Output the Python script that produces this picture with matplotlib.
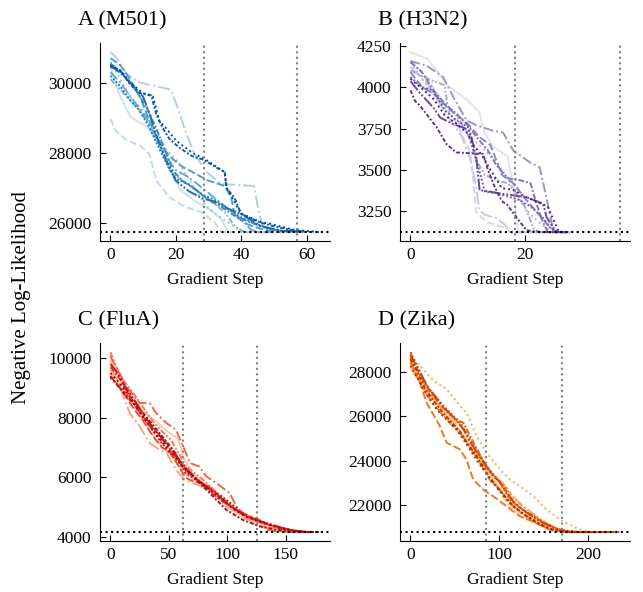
import numpy as np
import matplotlib
matplotlib.use("Agg")
import matplotlib.pyplot as plt

plt.rcParams['font.family'] = ['Liberation Serif', 'DejaVu Serif']

# each run: list of (gradient step, negative log-likelihood)
m501_runs = [
    [(0,30450),(2.6,29690),(6.2,29020),(11.3,28730),(14.4,28350),(17.4,27686),(21.5,26924),(25.6,26640),(30.8,26350),(33.8,26114),(36,25731),(37,25731)],
    [(0,28970),(1.5,28640),(5,28350),(9,28210),(12,27950),(14,27210),(18,26730),(23,26450),(28,26300),(32,26000),(34,25731),(38,25731)],
    [(0,30870),(2,30700),(5,30250),(9,30000),(14,29900),(18.5,29800),(20.5,29300),(23,28600),(26,27900),(30,27400),(34,27110),(44,27050),(45,26500),(46.5,25900),(48,25760),(55,25731)],
    [(0,30600),(3,30100),(6,29600),(10,29200),(14,28600),(17,28100),(21,27700),(25,27100),(29,26500),(33,26200),(37,25950),(40,25731),(44,25731)],
    [(0,30100),(4,29700),(8,29300),(12,28800),(16,28000),(18,27500),(22,27200),(27,26900),(31,26600),(35,26300),(38,25900),(41,25731),(46,25731)],
    [(0,30300),(3,30000),(7,29500),(11,29000),(14,28400),(17,27900),(20,27500),(24,27300),(28,27000),(32,26700),(36,26400),(40,26100),(43,25800),(45,25731),(50,25731)],
    [(0,30700),(3,30500),(6,30100),(9,29600),(12,28900),(15,28300),(18,27900),(22,27600),(26,27400),(30,27200),(35,27050),(37,26700),(38,26200),(42,25950),(47,25800),(52,25731)],
    [(0,30550),(4,30250),(8,29750),(11,29300),(14,28700),(17,28000),(19,27500),(22,27200),(26,26950),(30,26650),(34,26450),(38,26200),(43,26000),(48,25850),(53,25750),(56,25731)],
    [(0,30200),(3,29900),(6,29500),(9,29200),(12,28700),(15,28100),(18,27550),(20,27250),(24,27100),(28,26800),(32,26650),(36,26400),(40,26150),(45,25950),(50,25800),(55,25740),(58,25731)],
    [(0,30500),(4,30200),(8,29800),(10,29600),(12,29100),(14,28500),(17,27800),(20,27200),(24,26900),(28,26700),(32,26600),(36,26400),(40,26250),(46,25900),(52,25780),(60,25731)],
    [(0,30450),(3,30350),(6,29950),(9,29700),(12.5,29640),(14,29100),(16,28700),(18,28400),(21,28150),(25,27900),(28.5,27800),(32,27600),(35,27450),(35.5,27000),(38,26700),(40,26250),(46,26000),(50,25900),(56,25780),(61,25731)],
    [(0,30500),(3,30350),(6,30000),(10,29700),(13,29600),(15,28900),(17,28700),(20,28350),(25,28000),(28.7,27830),(34.9,27450),(35.5,27000),(40,26260),(46,26020),(49,25970),(56,25800),(64,25731)],
]

h3n2_runs = [
    [(0,4210),(3,4170),(6.5,4010),(10,3920),(12,3850),(13,3720),(14.5,3640),(17,3580),(18,3400),(18.8,3130),(22,3125)],
    [(0,4160),(2.8,4060),(5.8,3900),(8.7,3740),(10.5,3600),(11.5,3246),(13.3,3186),(16.2,3156),(17.5,3125),(20,3125)],
    [(0,4120),(3,4020),(6,3850),(9,3700),(10.5,3560),(11.5,3400),(12,3260),(13,3230),(15,3210),(16.5,3170),(17.5,3125),(24,3125)],
    [(0,4150),(3,4000),(6,3880),(9,3760),(11,3680),(13,3620),(15,3550),(17,3450),(19,3320),(21,3230),(23,3170),(25,3125),(30,3125)],
    [(0,4100),(3,4050),(6,4010),(6.5,3880),(8,3830),(10,3720),(11.5,3560),(13,3470),(15,3440),(17,3420),(18.5,3360),(20,3280),(21.5,3150),(22.5,3125),(26,3125)],
    [(0,4156),(2.8,4130),(5.7,4060),(7.5,3940),(9.8,3800),(11.5,3770),(14.5,3736),(16.2,3726),(18,3616),(20.9,3546),(22.6,3516),(23.8,3330),(25,3130),(26.5,3125),(28,3125)],
    [(0,4090),(2,4000),(4,3960),(7,3860),(10,3780),(12,3700),(14,3650),(16,3470),(18,3420),(20,3330),(22,3250),(24,3170),(25.5,3125),(28,3125)],
    [(0,4150),(2,4090),(4,3980),(6,3900),(8,3840),(10,3770),(12,3680),(13.5,3620),(15,3530),(17,3450),(19,3440),(21,3420),(22,3300),(23,3200),(24,3125),(27,3125)],
    [(0,4060),(2,4000),(4,3980),(6,3860),(8,3800),(10,3760),(11,3620),(12,3500),(13,3370),(15,3360),(17,3340),(19,3320),(21,3280),(23,3220),(24.5,3150),(26,3125),(27,3125)],
    [(0,4036),(1.6,3966),(4,3876),(5.2,3816),(7.5,3776),(9.2,3756),(10.4,3736),(11.5,3576),(12.1,3376),(12.7,3376),(16.2,3356),(20.3,3336),(23.2,3296),(23.8,3216),(25.5,3126),(27,3125)],
    [(0,3980),(0.8,3916),(1.7,3886),(4.6,3756),(6.3,3656),(8,3606),(12.7,3596),(13.6,3496),(14.5,3416),(15.6,3336),(16.2,3306),(16.8,3296),(18.5,3216),(20.3,3136),(23,3125),(26,3125)],
    [(0,4050),(2,3990),(4,3930),(6,3830),(8,3780),(10,3720),(11,3650),(12.5,3590),(14,3500),(16,3390),(18,3380),(20,3340),(22,3310),(24,3280),(25,3200),(26,3125),(27.5,3125)],
]

flua_runs = [
    [(0,9900),(10,9150),(20,8600),(30,8150),(40,7850),(50,7500),(58,7300),(62,6700),(70,6150),(80,5800),(90,5500),(100,5150),(110,4850),(120,4600),(130,4420),(140,4300),(150,4200),(155,4168),(160,4168)],
    [(0,9500),(8,9100),(15,8700),(25,8100),(35,7500),(45,7000),(55,6600),(62,6200),(70,5950),(80,5700),(90,5400),(100,5050),(110,4750),(120,4500),(130,4350),(140,4250),(150,4180),(158,4168),(165,4168)],
    [(0,9610),(5,9350),(16.5,8160),(25,7710),(33.6,7150),(42,6930),(48,6820),(56,6260),(63.5,5920),(70.6,5810),(85,5590),(99,5030),(113,4700),(127.6,4360),(150,4190),(160,4170),(179,4168)],
    [(0,10100),(6,9500),(14,9000),(22,8500),(32,7900),(42,7300),(52,6900),(60,6500),(68,6100),(78,5750),(88,5450),(98,5200),(108,4900),(118,4650),(128,4480),(138,4380),(148,4250),(158,4190),(168,4168),(172,4168)],
    [(0,10200),(5,9700),(12,9200),(20,8800),(28,8350),(36,7900),(44,7550),(52,7250),(60,6700),(64,6400),(72,6150),(80,5900),(88,5600),(96,5300),(104,5050),(112,4800),(122,4580),(132,4450),(142,4330),(152,4230),(162,4175),(170,4168)],
    [(0,10056),(13.7,9050),(25,8490),(33.6,8490),(39,8160),(48,7820),(56,7600),(63.5,6930),(68,6480),(76,6370),(82,6035),(90.6,5810),(102,5475),(107.7,5030),(113,4806),(127.6,4580),(133,4250),(142,4200),(155,4168),(165,4168)],
    [(0,9400),(10,8900),(20,8300),(28,7900),(36,7400),(44,7000),(50,6900),(58,6400),(64,6000),(70,5880),(80,5780),(88,5600),(94,5300),(100,5100),(110,4850),(118,4700),(126,4550),(134,4430),(144,4320),(154,4230),(164,4180),(172,4168)],
    [(0,9700),(8,9300),(16,8750),(24,8250),(32,7800),(40,7500),(48,7150),(56,6800),(62,6300),(70,6050),(78,5800),(86,5500),(94,5250),(104,5000),(114,4750),(124,4600),(134,4450),(144,4330),(156,4220),(166,4170),(175,4168)],
    [(0,9350),(10,8950),(18,8600),(26,8150),(34,7700),(42,7250),(50,6850),(58,6550),(64,6150),(72,5950),(80,5750),(88,5550),(96,5350),(104,5100),(112,4850),(120,4650),(130,4500),(140,4380),(150,4270),(160,4200),(168,4168),(176,4168)],
    [(0,9800),(6,9500),(14,8950),(22,8500),(30,8000),(38,7600),(46,7200),(54,6800),(60,6550),(66,6250),(74,5950),(82,5700),(90,5450),(98,5200),(106,4950),(116,4700),(126,4560),(136,4440),(146,4320),(156,4230),(166,4180),(178,4168)],
    [(0,9385),(13.7,8715),(28,8160),(42,7490),(53.5,6930),(62,6370),(70.6,6035),(85,5475),(99,4920),(113,4580),(127.6,4360),(142,4250),(156,4180),(166,4168),(172,4168)],
    [(0,9500),(7,9200),(15,8800),(23,8300),(31,7850),(39,7450),(47,7050),(55,6700),(61,6400),(67,6150),(75,5900),(83,5650),(91,5400),(99,5150),(107,4900),(115,4700),(125,4550),(135,4420),(145,4300),(155,4220),(165,4175),(179,4168)],
]

zika_runs = [
    [(0,28400),(10,27700),(20,27000),(30,26500),(40,26000),(50,25500),(60,25000),(70,24400),(80,23900),(90,23400),(100,22800),(110,22200),(120,21800),(130,21500),(140,21250),(150,21050),(160,20880),(170,20780),(176,20759),(182,20759)],
    [(0,28600),(8,28000),(16,27400),(26,26800),(36,26300),(46,25800),(56,25350),(64,24900),(72,24300),(82,23700),(92,23200),(102,22500),(110,22000),(118,21700),(128,21450),(138,21200),(148,21000),(158,20850),(166,20759),(175,20759)],
    [(0,28200),(6,27800),(14,27350),(24,26900),(32,26500),(42,26050),(52,25600),(60,25050),(68,24700),(76,24250),(84,23750),(94,23300),(104,23000),(112,22600),(120,22200),(128,21900),(138,21600),(148,21300),(158,21050),(168,20850),(178,20780),(186,20759),(195,20759)],
    [(0,28760),(14,28150),(25.6,27620),(40.7,27240),(55.7,26480),(63,26180),(74.6,25110),(86,24350),(101,23590),(112,23140),(123.5,22835),(138.6,22380),(153.7,21770),(168.7,21320),(187.6,20935),(199,20785),(205,20759),(215,20759)],
    [(0,28900),(6,28300),(14,27600),(22,27100),(30,26700),(40,26250),(50,25850),(58,25600),(64,25200),(72,24650),(80,24050),(90,23500),(100,23100),(108,22750),(116,22300),(126,21950),(136,21650),(146,21350),(156,21100),(166,20900),(176,20800),(186,20759),(200,20759)],
    [(0,28500),(10,27600),(18,27000),(28,26450),(38,26000),(48,25550),(58,25150),(66,24650),(74,24200),(82,23650),(90,23100),(98,22800),(106,22400),(114,22000),(124,21650),(134,21400),(144,21150),(154,20950),(164,20820),(174,20770),(184,20759),(210,20759)],
    [(0,28455),(10.5,27545),(18,26630),(33,25570),(40.7,24810),(55.7,24505),(63,24050),(70.8,23140),(82,22680),(93.4,22380),(108.5,21925),(123.5,21470),(142,21165),(157.4,20860),(176,20759),(190,20759)],
    [(0,28700),(8,28100),(16,27500),(24,27000),(34,26500),(44,26100),(54,25800),(60,25700),(66,25200),(74,24600),(82,24000),(90,23500),(98,23150),(106,22800),(112,22300),(120,21950),(130,21700),(140,21450),(150,21200),(160,21000),(170,20850),(180,20780),(190,20759),(225,20759)],
    [(0,28910),(18,27390),(37,26480),(55.7,25720),(70.8,24660),(86,23750),(101,22990),(112,22230),(131,21620),(150,21165),(168.7,20860),(190,20770),(206,20759),(236,20759)],
    [(0,28800),(5,28400),(12,27900),(20,27300),(30,26800),(40,26300),(50,25900),(60,25400),(68,24800),(76,24300),(84,23800),(92,23350),(100,23050),(108,22600),(116,22150),(126,21800),(136,21500),(146,21250),(156,21050),(166,20880),(174,20790),(182,20759),(232,20759)],
    [(0,28600),(8,28000),(16,27300),(26,26700),(36,26200),(46,25750),(56,25300),(64,24800),(72,24350),(80,23850),(88,23300),(96,22900),(104,22500),(112,22100),(122,21750),(132,21450),(142,21200),(152,21000),(162,20850),(172,20770),(180,20759),(220,20759)],
    [(0,28300),(7,27800),(15,27200),(23,26700),(31,26250),(41,25850),(51,25450),(59,25000),(67,24500),(75,24000),(83,23550),(91,23100),(99,22700),(107,22300),(115,21950),(125,21650),(135,21400),(145,21150),(155,20950),(165,20820),(175,20759),(200,20759)],
]

titles = ["A (M501)", "B (H3N2)", "C (FluA)", "D (Zika)"]
cmaps = ["Blues", "Purples", "Reds", "Oranges"]
best_nll = [25731, 3125, 4168, 20759]
step_marks = [[28.5, 57], [18.3, 36.6], [62, 125], [85.5, 171]]
ytick_sets = [[26000, 28000, 30000], [3250, 3500, 3750, 4000, 4250],
              [4000, 6000, 8000, 10000], [22000, 24000, 26000, 28000]]
all_runs = [m501_runs, h3n2_runs, flua_runs, zika_runs]

styles = ['-', '--', '-.', ':', (0, (3, 1, 1, 1, 1, 1)), (0, (5, 1.5, 1, 1.5)),
          (0, (4, 1.5)), (0, (3, 1, 1, 1)), (0, (1, 1)), (0, (6, 1, 1, 1, 1, 1)),
          (0, (2, 1, 1, 1)), (0, (1, 1.5))]

fig, axes = plt.subplots(2, 2, figsize=(6.43, 5.92), dpi=100)
fig.subplots_adjust(left=0.1555, right=0.98, top=0.927, bottom=0.086,
                    wspace=0.304, hspace=0.515)

for ax, runs, title, cm, best, marks, yt in zip(axes.flat, all_runs, titles, cmaps,
                                                best_nll, step_marks, ytick_sets):
    colors = plt.get_cmap(cm)(np.linspace(0.2, 0.9, len(runs)))
    for i, run in enumerate(runs):
        xs = [p[0] for p in run]
        ys = [p[1] for p in run]
        ax.plot(xs, ys, color=colors[i], ls=styles[i % len(styles)], lw=1.4)
    ax.axhline(best, color='black', ls=':', lw=1.5)
    for m in marks:
        ax.axvline(m, color='gray', ls=':', lw=1.5)
    ax.set_yticks(yt)
    ax.set_title(title, loc='left', x=-0.095, fontsize=16, pad=13)
    ax.set_xlabel("Gradient Step", fontsize=12.5, labelpad=6)
    ax.spines['top'].set_visible(False)
    ax.spines['right'].set_visible(False)
    ax.tick_params(direction='in', length=4, labelsize=12.5)
    ax.tick_params(axis='y', pad=6)
    ax.tick_params(axis='x', pad=4.5)

fig.text(0.034, 0.498, "Negative Log-Likelihood", rotation=90,
         va='center', ha='center', fontsize=15)

plt.savefig("out.png", dpi=100)
